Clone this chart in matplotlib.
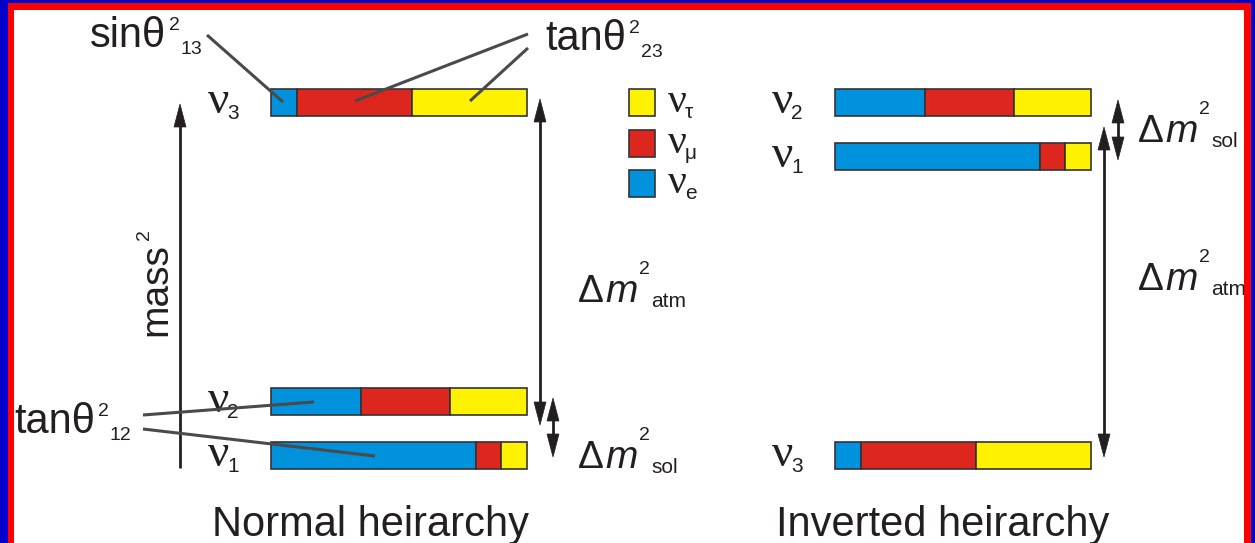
import matplotlib.pyplot as plt
from matplotlib.patches import Rectangle, Polygon

# flavour content of each mass state (fractions of the bar length)
states = ['1', '2', '3']
e_frac = [0.80, 0.35, 0.10]
mu_frac = [0.10, 0.35, 0.45]
tau_frac = [0.10, 0.30, 0.45]

flavour_colors = ['#0092dc', '#dc261e', '#fff200']   # nu_e, nu_mu, nu_tau
flavour_subs = ['e', 'μ', 'τ']

INK = '#231f20'
W, H = 1255, 543

fig = plt.figure(figsize=(W / 100, H / 100), dpi=100)
ax = fig.add_axes([0, 0, 1, 1])
ax.set_xlim(0, W)
ax.set_ylim(H, 0)
ax.axis('off')
renderer = fig.canvas.get_renderer()


def chain(x, y, parts):
    # parts: (text, size, dx, dy, family, style) placed left to right
    for s, size, dx, dy, fam, style in parts:
        t = ax.text(x + dx, y + dy, s, fontsize=size, family=fam, style=style,
                    ha='left', va='baseline', color=INK, zorder=5)
        x = t.get_window_extent(renderer).x1
    return x


def nu(x, y, sub, size=34, subsize=15):
    chain(x, y, [('ν', size, 0, 0, 'Liberation Serif', 'normal'),
                 (sub, subsize, -2, 6, 'Liberation Sans', 'normal')])


def dm2(x, y, sub):
    chain(x, y, [('Δ', 28, 0, 0, 'Liberation Sans', 'normal'),
                 ('m', 28, 1, 0, 'Liberation Sans', 'italic'),
                 ('2', 14, 2, -28, 'Liberation Sans', 'normal'),
                 (sub, 15, 1, 5, 'Liberation Sans', 'normal')])


def angle(x, y, fn, sub):
    chain(x, y, [(fn + 'θ', 30, 0, 0, 'Liberation Sans', 'normal'),
                 ('2', 14, 3, -17, 'Liberation Sans', 'normal'),
                 (sub, 14, 1, 7, 'Liberation Sans', 'normal')])


def bar(x0, y0, i, width=256, height=27):
    x = x0
    for frac, c in zip([e_frac[i], mu_frac[i], tau_frac[i]], flavour_colors):
        w = frac * width
        ax.add_patch(Rectangle((x, y0), w, height, facecolor=c,
                               edgecolor='#333333', lw=1.2, zorder=2))
        x += w


def head(x, y_tip, d, length=23, half=6):
    # d = +1 points down the page, -1 points up
    base = y_tip - d * length
    ax.add_patch(Polygon([(x, y_tip), (x - half, base), (x + half, base)],
                         closed=True, facecolor=INK, edgecolor=INK, lw=0.5,
                         zorder=4))
    return base


def arrow(x, y_tail, y_tip, both=False):
    d = 1 if y_tip > y_tail else -1
    y1 = head(x, y_tip, d) + d * 2
    y0 = head(x, y_tail, -d) - d * 2 if both else y_tail
    ax.plot([x, x], [y0, y1], color=INK, lw=2.0, solid_capstyle='butt', zorder=4)


def pointer(x0, y0, x1, y1):
    ax.plot([x0, x1], [y0, y1], color='#4a4a4a', lw=2.2,
            solid_capstyle='butt', zorder=6)


# ---------------- normal hierarchy ----------------
normal_rows = {'3': 89, '2': 388, '1': 442}
for s, y in normal_rows.items():
    bar(271, y, states.index(s))
    nu(208, y + 24, s)

arrow(180, 468, 104)
ax.text(156, 290, 'mass', rotation=90, fontsize=28, family='Liberation Sans',
        ha='center', va='center', color=INK)
ax.text(144, 235, '2', rotation=90, fontsize=14, family='Liberation Sans',
        ha='center', va='center', color=INK)

arrow(540, 425, 99, both=True)
arrow(553, 457, 398, both=True)
dm2(578, 302, 'atm')
dm2(578, 468, 'sol')

angle(90, 47, 'sin', '13')
pointer(207, 35, 283, 102)
angle(545, 50, 'tan', '23')
pointer(528, 34, 355, 101)
pointer(528, 48, 470, 101)
angle(14, 433, 'tan', '12')
pointer(143, 415, 314, 402)
pointer(143, 429, 375, 456)

ax.text(370, 536, 'Normal heirarchy', fontsize=30, family='Liberation Sans',
        ha='center', va='baseline', color=INK)

# ---------------- legend ----------------
legend_rows = [89, 130, 170]
for k, y in zip([2, 1, 0], legend_rows):
    ax.add_patch(Rectangle((629, y), 26, 27, facecolor=flavour_colors[k],
                           edgecolor='#333333', lw=1.2, zorder=2))
    nu(668, y + 23, flavour_subs[k], size=30, subsize=15)

# ---------------- inverted hierarchy ----------------
inverted_rows = {'2': 89, '1': 143, '3': 442}
for s, y in inverted_rows.items():
    bar(835, y, states.index(s))
    nu(772, y + 24, s)

arrow(1118, 160, 100, both=True)
arrow(1104, 457, 127, both=True)
dm2(1138, 142, 'sol')
dm2(1138, 290, 'atm')

ax.text(943, 536, 'Inverted heirarchy', fontsize=30, family='Liberation Sans',
        ha='center', va='baseline', color=INK)

# ---------------- frame ----------------
blue, red = '#0000c8', '#ff0000'
for r in [(0, 0, 8, H), (0, 0, W, 3), (1251, 0, 4, H)]:
    ax.add_patch(Rectangle(r[:2], r[2], r[3], facecolor=blue, lw=0, zorder=10))
for r in [(8, 3, 6, H), (8, 3, 1243, 7), (1244, 3, 7, H)]:
    ax.add_patch(Rectangle(r[:2], r[2], r[3], facecolor=red, lw=0, zorder=10))

fig.savefig('out.png', dpi=100)
